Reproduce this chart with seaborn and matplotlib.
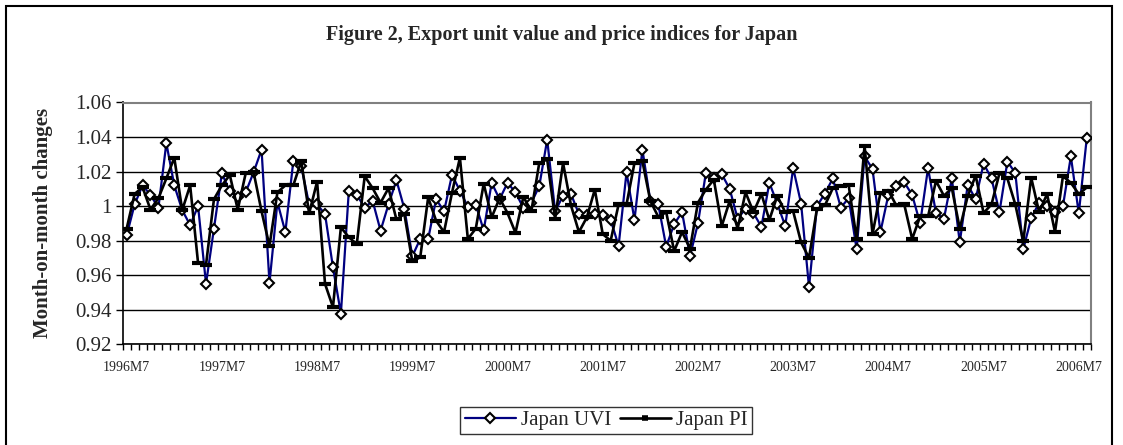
import matplotlib
matplotlib.use("Agg")
import matplotlib.pyplot as plt
import seaborn as sns
import pandas as pd
import numpy as np
from matplotlib.patches import Rectangle
from matplotlib.lines import Line2D

# monthly series, 1996M7 .. 2006M8
uvi = [0.983, 1.001, 1.012, 1.0065, 0.999, 1.0365, 1.012, 0.9977, 0.989, 1.000,
       0.955, 0.987, 1.019, 1.0085, 1.005, 1.008, 1.0196, 1.0327, 0.9555, 1.0023,
       0.985, 1.026, 1.023, 1.001, 1.001, 0.9954, 0.9646, 0.9377, 1.009, 1.0065,
       0.9992, 1.003, 0.9858, 1.001, 1.015, 0.9985, 0.971, 0.981, 0.981, 1.004,
       0.997, 1.018, 1.009, 0.9996, 1.0008, 0.986, 1.0135, 1.004, 1.0135, 1.008,
       0.999, 1.002, 1.0115, 1.0385, 0.997, 1.006, 1.007, 0.9954, 0.9946, 0.9954,
       0.9946, 0.992, 0.977, 1.0196, 0.992, 1.0327, 1.003, 1.001, 0.9765, 0.9896,
       0.9965, 0.971, 0.990, 1.0192, 1.016, 1.0185, 1.010, 0.9927, 0.9985, 0.996,
       0.988, 1.0135, 1.0015, 0.9885, 1.022, 1.0015, 0.953, 1.000, 1.0073, 1.016,
       0.9992, 1.0046, 0.975, 1.0288, 1.0215, 0.985, 1.0065, 1.0115, 1.0138, 1.0065,
       0.990, 1.022, 0.996, 0.9927, 1.016, 0.979, 1.0123, 1.004, 1.0246, 1.016,
       0.9965, 1.0258, 1.0192, 0.975, 0.993, 1.002, 1.000, 0.9965, 1.000, 1.0288,
       0.9958, 1.0392]

pi = [0.987, 1.007, 1.011, 0.998, 1.0046, 1.016, 1.028, 0.9977, 1.012, 0.967,
      0.966, 1.004, 1.012, 1.018, 0.998, 1.019, 1.0196, 0.997, 0.977, 1.008,
      1.012, 1.012, 1.026, 0.9958, 1.0142, 0.955, 0.9415, 0.9877, 0.982, 0.978,
      1.0173, 1.0104, 1.002, 1.0104, 0.9923, 0.9954, 0.968, 0.9704, 1.005, 0.9915,
      0.985, 1.0077, 1.028, 0.981, 0.987, 1.013, 0.9935, 1.0046, 0.996, 0.9846,
      1.0054, 0.997, 1.025, 1.027, 0.9927, 1.025, 1.0004, 0.985, 0.9935, 1.0096,
      0.9838, 0.980, 1.001, 1.001, 1.025, 1.026, 1.003, 0.9938, 0.9965, 0.974,
      0.985, 0.9754, 1.002, 1.0096, 1.0154, 0.9885, 1.003, 0.987, 1.008, 0.9965,
      1.007, 0.992, 1.006, 0.9965, 0.997, 0.979, 0.970, 0.9985, 1.0004, 1.0104,
      1.0115, 1.012, 0.981, 1.035, 0.9838, 1.0077, 1.009, 1.0004, 1.001, 0.981,
      0.994, 0.994, 1.0146, 1.006, 1.0104, 0.987, 1.0058, 1.0177, 0.996, 1.001,
      1.019, 1.016, 1.001, 0.9796, 1.0165, 0.9965, 1.007, 0.985, 1.0173, 1.0135,
      1.007, 1.0108]

tick_labels = ["1996M7", "1997M7", "1998M7", "1999M7", "2000M7", "2001M7",
               "2002M7", "2003M7", "2004M7", "2005M7", "2006M7"]
y_ticks = [0.92, 0.94, 0.96, 0.98, 1.00, 1.02, 1.04, 1.06]
y_labels = ["0.92", "0.94", "0.96", "0.98", "1", "1.02", "1.04", "1.06"]

df = pd.DataFrame({"month": np.arange(len(uvi)), "uvi": uvi, "pi": pi})

sns.set_style("white")
plt.rcParams["font.family"] = ["Liberation Serif", "DejaVu Serif"]

W, H = 1123, 445
fig = plt.figure(figsize=(W / 100, H / 100), dpi=100)
ax = fig.add_axes([122.7 / W, 1 - 344.3 / H, (1090.7 - 122.7) / W, (344.3 - 102.5) / H])

# outer chart frame
fig.patches.append(Rectangle((6 / W, -0.05), (1112 - 6) / W, 1.05 - 6 / H,
                             transform=fig.transFigure, fill=False,
                             edgecolor="black", linewidth=1.5))

sns.lineplot(data=df, x="month", y="uvi", ax=ax, color="#000080", linewidth=1.6,
             marker="D", markersize=5.5, markerfacecolor="white",
             markeredgecolor="black", markeredgewidth=1.5, zorder=3)
sns.lineplot(data=df, x="month", y="pi", ax=ax, color="black", linewidth=1.9,
             marker="_", markersize=8, markeredgewidth=3, markeredgecolor="black",
             zorder=4)

ax.set_xlim(-0.5, len(uvi) - 0.5)
ax.set_ylim(0.92, 1.06)
ax.set_yticks(y_ticks)
ax.set_yticklabels(y_labels, fontsize=15)
ax.set_xticks(np.arange(0, len(uvi), 12))
ax.set_xticklabels(tick_labels, fontsize=10)
ax.set_xticks(np.arange(len(uvi) + 1) - 0.5, minor=True)
ax.tick_params(axis="x", which="major", length=0, pad=12)
ax.tick_params(axis="x", which="minor", length=4, width=1, color="black", direction="out")
ax.tick_params(axis="y", length=5, width=1, color="black", direction="out", pad=3)
ax.xaxis.set_tick_params(bottom=True, which="both")
ax.yaxis.set_tick_params(left=True)

ax.grid(axis="y", color="black", linewidth=1)
ax.set_axisbelow(True)
for side in ["top", "right"]:
    ax.spines[side].set_color("#808080")
    ax.spines[side].set_linewidth(1.5)
for side in ["left", "bottom"]:
    ax.spines[side].set_color("black")
    ax.spines[side].set_linewidth(1.2)

ax.set_xlabel("")
ax.set_ylabel("Month-on-month changes", fontsize=15, fontweight="bold")
ax.yaxis.set_label_coords(-0.072, 0.5)

fig.text(0.5, 1 - 35 / H, "Figure 2, Export unit value and price indices for Japan",
         ha="center", va="center", fontsize=14.5, fontweight="bold")

handles = [
    Line2D([], [], color="#000080", linewidth=1.6, marker="D", markersize=5,
           markerfacecolor="white", markeredgecolor="black", markeredgewidth=1.5),
    Line2D([], [], color="black", linewidth=1.9, marker="_", markersize=5,
           markeredgewidth=4),
]
if ax.get_legend() is not None:
    ax.get_legend().remove()
leg = fig.legend(handles, ["Japan UVI", "Japan PI"], loc="center",
                 bbox_to_anchor=(606 / W, 1 - 420.5 / H), ncol=2, fontsize=15,
                 frameon=True, fancybox=False, edgecolor="black",
                 handlelength=2.45, handletextpad=0.25, columnspacing=0.4,
                 borderpad=0.2, borderaxespad=0)
leg.get_frame().set_linewidth(1.0)

fig.savefig("out.png", dpi=100)
